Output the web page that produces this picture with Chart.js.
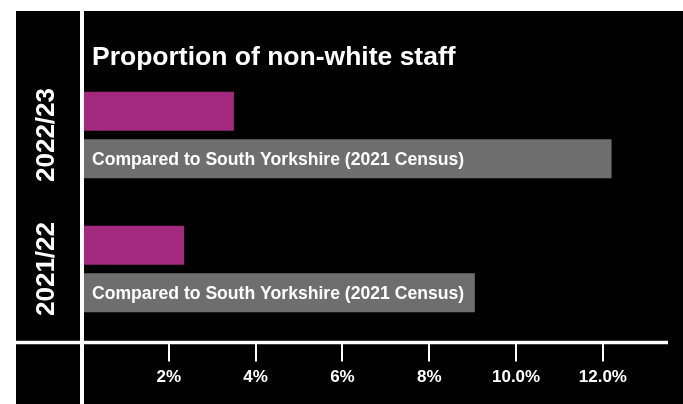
<!DOCTYPE html>
<html>
<head>
<meta charset="utf-8">
<title>Proportion of non-white staff</title>
<script src="https://cdn.jsdelivr.net/npm/chart.js@4"></script>
<style>
  html, body { margin: 0; padding: 0; background: #ffffff; }
  #wrap { width: 683px; height: 404px; }
</style>
</head>
<body>
<div id="wrap"><canvas id="staffChart" width="683" height="404"></canvas></div>
<script>
/* ---------- data ---------- */
const years = ["2022/23", "2021/22"];
const staffShare = [3.5, 2.35];
const censusShare = [12.2, 9.05];
const tickValues = [2, 4, 6, 8, 10, 12];
const tickLabels = ["2%", "4%", "6%", "8%", "10.0%", "12.0%"];

const chartTitle = "Proportion of non-white staff";
const censusLabel = "Compared to South Yorkshire (2021 Census)";

const FONT = "'Liberation Sans', Arial, sans-serif";

/* ---------- frame, labels, axis lines ---------- */
const framePlugin = {
  id: "frame",
  beforeDraw(chart) {
    const { ctx, width, height } = chart;
    ctx.save();
    ctx.fillStyle = "#000000";
    ctx.fillRect(16, 11, width - 16, height - 11);
    ctx.restore();
  },
  afterDatasetsDraw(chart) {
    const { ctx, chartArea, scales } = chart;
    const x = scales.x, y = scales.y;
    ctx.save();

    // label inside the census bars
    const meta = chart.getDatasetMeta(1);
    ctx.fillStyle = "#ffffff";
    ctx.font = "bold 17.6px " + FONT;
    ctx.textBaseline = "middle";
    ctx.textAlign = "left";
    meta.data.forEach(bar => {
      ctx.fillText(censusLabel, bar.base + 10, bar.y + 1);
    });

    // title
    ctx.font = "bold 26.5px " + FONT;
    ctx.textBaseline = "alphabetic";
    ctx.fillText(chartTitle, chartArea.left + 10, 65);

    // rotated year labels
    ctx.font = "bold 26px " + FONT;
    ctx.textAlign = "center";
    ctx.textBaseline = "middle";
    years.forEach((yr, i) => {
      ctx.save();
      ctx.translate(47, y.getPixelForValue(i));
      ctx.rotate(-Math.PI / 2);
      ctx.fillText(yr, 0, 0);
      ctx.restore();
    });

    // axis lines
    const zero = x.getPixelForValue(0);
    const axisY = chartArea.bottom + 6.5;
    ctx.strokeStyle = "#ffffff";
    ctx.lineWidth = 4;
    ctx.beginPath();
    ctx.moveTo(zero, 11);
    ctx.lineTo(zero, chart.height);
    ctx.stroke();

    ctx.lineWidth = 3.5;
    ctx.beginPath();
    ctx.moveTo(16, axisY);
    ctx.lineTo(chartArea.right, axisY);
    ctx.stroke();

    // tick marks
    ctx.lineWidth = 2;
    tickValues.forEach(v => {
      const px = Math.round(x.getPixelForValue(v));
      ctx.beginPath();
      ctx.moveTo(px, axisY + 1);
      ctx.lineTo(px, axisY + 19);
      ctx.stroke();
    });

    ctx.restore();
  }
};

/* ---------- chart ---------- */
new Chart(document.getElementById("staffChart"), {
  type: "bar",
  data: {
    labels: years,
    datasets: [
      {
        label: "Non-white staff",
        data: staffShare,
        backgroundColor: "#A3297F",
        borderWidth: 0
      },
      {
        label: censusLabel,
        data: censusShare,
        backgroundColor: "#6E6E6E",
        borderWidth: 0
      }
    ]
  },
  options: {
    indexAxis: "y",
    responsive: false,
    animation: false,
    devicePixelRatio: 1,
    categoryPercentage: 0.709,
    barPercentage: 0.82,
    layout: {
      padding: { left: 82, right: 15, top: 68, bottom: 18 }
    },
    plugins: {
      legend: { display: false },
      tooltip: { enabled: false },
      title: { display: false }
    },
    scales: {
      y: { display: false },
      x: {
        type: "linear",
        min: 0,
        max: 13.5,
        afterBuildTicks(scale) {
          scale.ticks = tickValues.map(v => ({ value: v }));
        },
        afterFit(scale) {
          scale.height = 50;
        },
        border: { display: false },
        grid: {
          display: true,
          drawOnChartArea: false,
          drawTicks: true,
          tickLength: 24,
          color: "rgba(0,0,0,0)",
          tickColor: "rgba(0,0,0,0)"
        },
        ticks: {
          color: "#ffffff",
          padding: 7,
          maxRotation: 0,
          autoSkip: false,
          font: { family: FONT, size: 17, weight: "bold" },
          callback(value) {
            const i = tickValues.indexOf(value);
            return i >= 0 ? tickLabels[i] : "";
          }
        }
      }
    }
  },
  plugins: [framePlugin]
});
</script>
</body>
</html>
